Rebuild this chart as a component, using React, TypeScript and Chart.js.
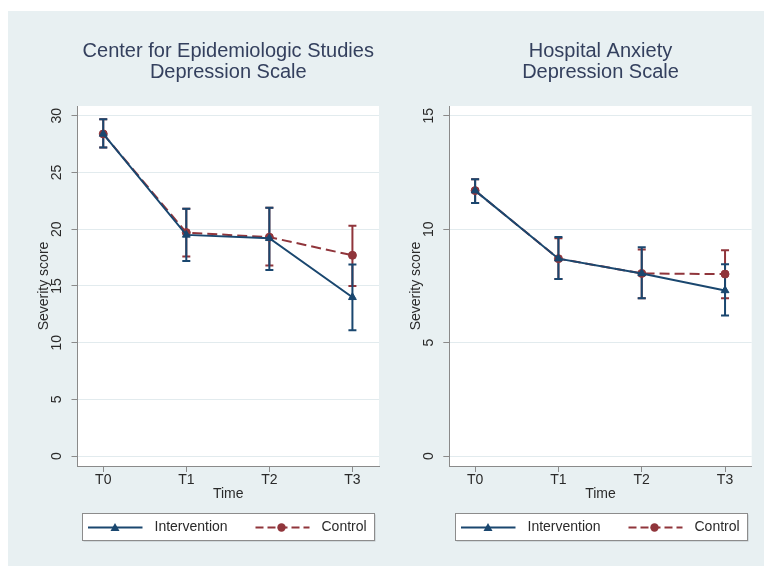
import React, { useEffect, useRef } from "react";
import { Chart, registerables } from "chart.js";

Chart.register(...registerables);

// ---------- data ----------
const timeLabels = ["T0", "T1", "T2", "T3"];
const seriesNames = ["Intervention", "Control"];
const yAxisTitle = "Severity score";
const xAxisTitle = "Time";

const cesdTitle = ["Center for Epidemiologic Studies", "Depression Scale"];
const cesdYTicks = [0, 5, 10, 15, 20, 25, 30];
const cesdInterventionMean = [28.4, 19.5, 19.2, 14.0];
const cesdInterventionLow = [27.2, 17.2, 16.4, 11.1];
const cesdInterventionHigh = [29.7, 21.8, 21.9, 16.9];
const cesdControlMean = [28.4, 19.7, 19.3, 17.7];
const cesdControlLow = [27.2, 17.6, 16.8, 15.0];
const cesdControlHigh = [29.7, 21.8, 21.9, 20.3];

const hadsTitle = ["Hospital Anxiety", "Depression Scale"];
const hadsYTicks = [0, 5, 10, 15];
const hadsInterventionMean = [11.7, 8.7, 8.05, 7.3];
const hadsInterventionLow = [11.15, 7.8, 6.95, 6.2];
const hadsInterventionHigh = [12.2, 9.65, 9.2, 8.45];
const hadsControlMean = [11.7, 8.7, 8.05, 8.02];
const hadsControlLow = [11.15, 7.8, 6.95, 6.95];
const hadsControlHigh = [12.2, 9.6, 9.1, 9.07];

// ---------- styles ----------
const NAVY = "#1a476f";
const MAROON = "#90353b";
const BG = "#e8f0f2";
const GRID = "#e2ebee";
const AXIS = "#8a8a8a";
const TEXT = "#2a2a2a";
const TITLE = "#34405e";
const FONT = "'Liberation Sans', Arial, Helvetica, sans-serif";

const W = 378;
const H = 555;
const PLOT_TOP = 95;
const PLOT_BOTTOM = 455;

type PanelProps = {
  title: string[];
  yTicks: number[];
  yMin: number;
  yMax: number;
  iMean: number[];
  iLow: number[];
  iHigh: number[];
  cMean: number[];
  cLow: number[];
  cHigh: number[];
  plotLeft: number;
  plotRight: number;
};

function drawMarker(ctx: CanvasRenderingContext2D, kind: string, x: number, y: number, color: string) {
  ctx.save();
  ctx.fillStyle = color;
  ctx.beginPath();
  if (kind === "triangle") {
    const r = 4.5;
    ctx.moveTo(x, y - r);
    ctx.lineTo(x + r, y + r * 0.75);
    ctx.lineTo(x - r, y + r * 0.75);
    ctx.closePath();
  } else {
    ctx.arc(x, y, 4.2, 0, Math.PI * 2);
  }
  ctx.fill();
  ctx.restore();
}

function Panel(p: PanelProps) {
  const ref = useRef<HTMLCanvasElement | null>(null);

  useEffect(() => {
    if (!ref.current) return;

    const plugin = {
      id: "stataPanel",
      beforeDraw(chart: any) {
        const { ctx, chartArea: a } = chart;
        ctx.save();
        ctx.fillStyle = "#ffffff";
        ctx.fillRect(a.left, a.top, a.right - a.left, a.bottom - a.top);
        ctx.restore();
      },
      beforeDatasetsDraw(chart: any) {
        const { ctx } = chart;
        const xs = chart.scales.x;
        const ys = chart.scales.y;
        const order = [1, 0];
        order.forEach((di) => {
          const ds: any = chart.data.datasets[di];
          ctx.save();
          ctx.strokeStyle = ds.borderColor;
          ctx.lineWidth = 2;
          ctx.setLineDash([]);
          ds.errLow.forEach((lo: number, i: number) => {
            const hi = ds.errHigh[i];
            const x = xs.getPixelForValue(i);
            const y1 = ys.getPixelForValue(lo);
            const y2 = ys.getPixelForValue(hi);
            const cap = 4;
            ctx.beginPath();
            ctx.moveTo(x, y1);
            ctx.lineTo(x, y2);
            ctx.moveTo(x - cap, y1);
            ctx.lineTo(x + cap, y1);
            ctx.moveTo(x - cap, y2);
            ctx.lineTo(x + cap, y2);
            ctx.stroke();
          });
          ctx.restore();
        });
      },
      afterDraw(chart: any) {
        const { ctx, chartArea: a } = chart;
        const xs = chart.scales.x;
        const ys = chart.scales.y;
        const cx = (a.left + a.right) / 2;
        const cy = (a.top + a.bottom) / 2;
        ctx.save();
        // title
        ctx.fillStyle = TITLE;
        ctx.font = `20px ${FONT}`;
        ctx.textAlign = "center";
        ctx.textBaseline = "middle";
        p.title.forEach((t, i) => ctx.fillText(t, cx, 40 + i * 21));

        // y tick labels (rotated)
        ctx.fillStyle = TEXT;
        ctx.font = `14px ${FONT}`;
        p.yTicks.forEach((v) => {
          const y = ys.getPixelForValue(v);
          ctx.save();
          ctx.translate(a.left - 20, y);
          ctx.rotate(-Math.PI / 2);
          ctx.fillText(String(v), 0, 0);
          ctx.restore();
        });
        // y axis title
        ctx.save();
        ctx.translate(a.left - 33, cy);
        ctx.rotate(-Math.PI / 2);
        ctx.fillText(yAxisTitle, 0, 0);
        ctx.restore();

        // x tick labels
        timeLabels.forEach((lab, i) => {
          const x = xs.getPixelForValue(i);
          ctx.fillText(lab, x, a.bottom + 14.5);
        });
        // x title
        ctx.fillText(xAxisTitle, cx, a.bottom + 28.5);

        // legend
        const bw = 292;
        const bh = 27;
        const bx = Math.round(cx - bw / 2) + 0.5;
        const by = 502.5;
        ctx.fillStyle = "#b9c2c6";
        ctx.fillRect(bx + 1, by + 1, bw, bh);
        ctx.fillStyle = "#ffffff";
        ctx.fillRect(bx, by, bw, bh);
        ctx.strokeStyle = "#8c8c8c";
        ctx.lineWidth = 1;
        ctx.strokeRect(bx, by, bw, bh);
        const ly = by + bh / 2 + 0.5;
        // intervention symbol
        ctx.strokeStyle = NAVY;
        ctx.lineWidth = 2;
        ctx.beginPath();
        ctx.moveTo(bx + 5.5, ly);
        ctx.lineTo(bx + 60, ly);
        ctx.stroke();
        drawMarker(ctx, "triangle", bx + 32.5, ly, NAVY);
        // control symbol
        ctx.strokeStyle = MAROON;
        ctx.setLineDash([8, 4]);
        ctx.beginPath();
        ctx.moveTo(bx + 173, ly);
        ctx.lineTo(bx + 227, ly);
        ctx.stroke();
        ctx.setLineDash([]);
        drawMarker(ctx, "circle", bx + 199, ly, MAROON);
        // legend texts
        ctx.fillStyle = TEXT;
        ctx.font = `14px ${FONT}`;
        ctx.textAlign = "left";
        ctx.fillText(seriesNames[0], bx + 72, ly);
        ctx.fillText(seriesNames[1], bx + 239, ly);
        ctx.restore();
      },
    };

    const toPts = (arr: number[]) => arr.map((y, i) => ({ x: i, y }));

    const chart = new Chart(ref.current, {
      type: "line",
      data: {
        datasets: [
          {
            label: seriesNames[0],
            data: toPts(p.iMean),
            errLow: p.iLow,
            errHigh: p.iHigh,
            borderColor: NAVY,
            backgroundColor: NAVY,
            borderWidth: 2,
            pointStyle: "triangle",
            pointRadius: 4.5,
            pointBorderWidth: 1,
            pointBackgroundColor: NAVY,
            pointBorderColor: NAVY,
            tension: 0,
          } as any,
          {
            label: seriesNames[1],
            data: toPts(p.cMean),
            errLow: p.cLow,
            errHigh: p.cHigh,
            borderColor: MAROON,
            backgroundColor: MAROON,
            borderWidth: 2,
            borderDash: [10, 5],
            pointStyle: "circle",
            pointRadius: 4,
            pointBorderWidth: 1,
            pointBackgroundColor: MAROON,
            pointBorderColor: MAROON,
            tension: 0,
          } as any,
        ],
      },
      options: {
        animation: false,
        responsive: false,
        devicePixelRatio: 1,
        layout: {
          padding: {
            top: PLOT_TOP,
            bottom: H - PLOT_BOTTOM - 40,
            left: 0,
            right: W - p.plotRight,
          },
        },
        plugins: {
          legend: { display: false },
          tooltip: { enabled: false },
          title: { display: false },
        },
        scales: {
          x: {
            type: "linear",
            min: -0.31,
            max: 3.32,
            afterBuildTicks: (s: any) => {
              s.ticks = timeLabels.map((_, i) => ({ value: i }));
            },
            afterFit: (s: any) => {
              s.height = 40;
            },
            ticks: { display: false },
            grid: {
              drawOnChartArea: false,
              drawTicks: true,
              tickLength: 6,
              tickColor: AXIS,
              color: AXIS,
            },
            border: { color: AXIS, width: 1 },
          },
          y: {
            type: "linear",
            min: p.yMin,
            max: p.yMax,
            afterBuildTicks: (s: any) => {
              s.ticks = p.yTicks.map((v) => ({ value: v }));
            },
            afterFit: (s: any) => {
              s.width = p.plotLeft;
            },
            ticks: { display: false },
            grid: {
              color: GRID,
              lineWidth: 1,
              drawTicks: true,
              tickLength: 6,
              tickColor: AXIS,
            },
            border: { color: AXIS, width: 1 },
          },
        },
      } as any,
      plugins: [plugin as any],
    });

    return () => chart.destroy();
  }, []);

  return <canvas ref={ref} width={W} height={H} style={{ display: "block", width: W, height: H }} />;
}

export default function App() {
  return (
    <div style={{ position: "fixed", left: 0, top: 0, width: 764, height: 566, background: "#ffffff" }}>
      <div
        style={{
          position: "absolute",
          left: 8,
          top: 11,
          width: 756,
          height: 555,
          background: BG,
          display: "flex",
        }}
      >
        <Panel
          title={cesdTitle}
          yTicks={cesdYTicks}
          yMin={-0.87}
          yMax={30.86}
          iMean={cesdInterventionMean}
          iLow={cesdInterventionLow}
          iHigh={cesdInterventionHigh}
          cMean={cesdControlMean}
          cLow={cesdControlLow}
          cHigh={cesdControlHigh}
          plotLeft={69.5}
          plotRight={371}
        />
        <Panel
          title={hadsTitle}
          yTicks={hadsYTicks}
          yMin={-0.44}
          yMax={15.43}
          iMean={hadsInterventionMean}
          iLow={hadsInterventionLow}
          iHigh={hadsInterventionHigh}
          cMean={hadsControlMean}
          cLow={hadsControlLow}
          cHigh={hadsControlHigh}
          plotLeft={63.3}
          plotRight={365.7}
        />
      </div>
    </div>
  );
}
